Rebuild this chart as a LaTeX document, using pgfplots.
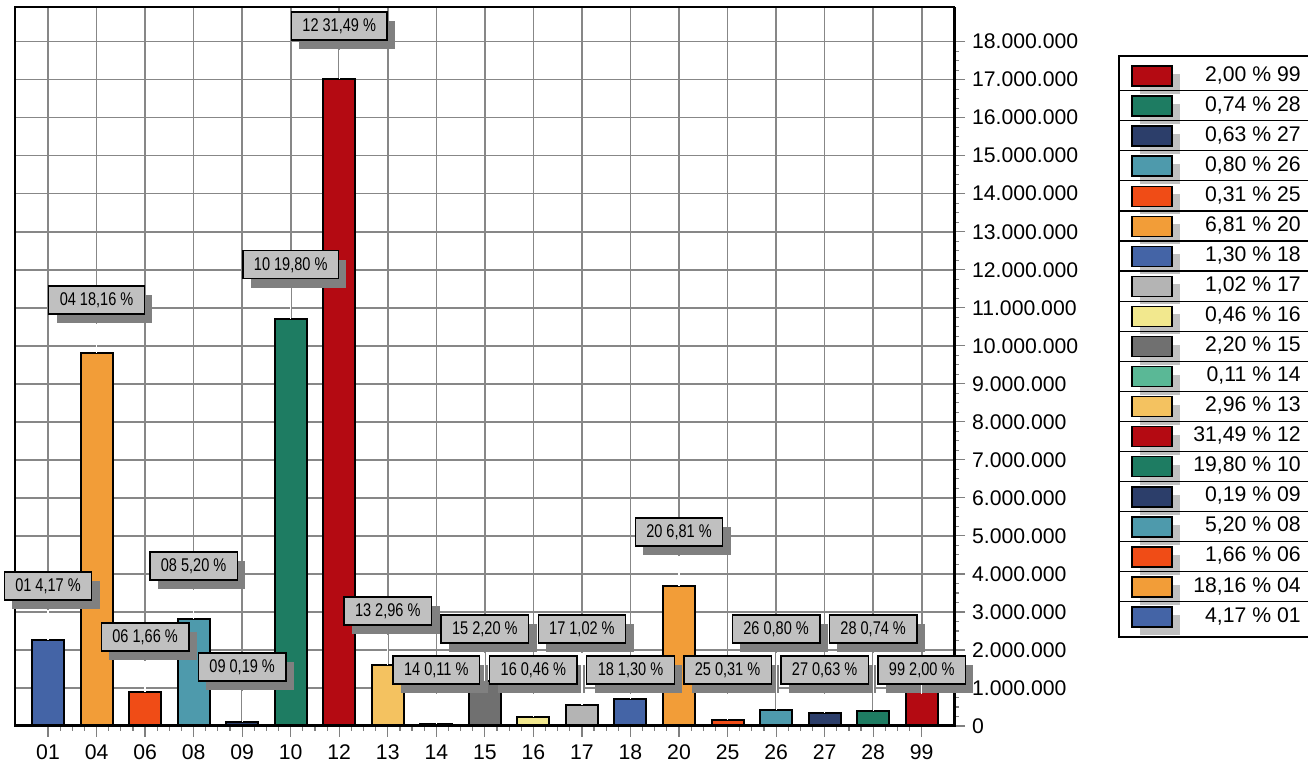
\documentclass[border=0pt]{standalone}
\usepackage{fontspec}
\setmainfont{Liberation Sans}
\newfontfamily\narrowfont[FakeStretch=0.79]{Liberation Sans}
\usepackage{pgfplots}
\pgfplotsset{compat=1.18}
\usetikzlibrary{shadows}

\definecolor{cblue}{RGB}{68,100,166}
\definecolor{corange}{RGB}{242,157,56}
\definecolor{cver}{RGB}{240,76,22}
\definecolor{cteal}{RGB}{78,154,172}
\definecolor{cnavy}{RGB}{44,62,106}
\definecolor{cgreen}{RGB}{30,124,98}
\definecolor{cred}{RGB}{180,10,18}
\definecolor{clorange}{RGB}{244,194,96}
\definecolor{cmint}{RGB}{90,184,150}
\definecolor{cgray}{RGB}{112,112,112}
\definecolor{cyellow}{RGB}{242,232,142}
\definecolor{clgray}{RGB}{180,180,180}
\definecolor{gridgray}{RGB}{135,135,135}
\definecolor{lblgray}{RGB}{192,192,192}
\definecolor{shgray}{RGB}{128,128,128}

\newcommand{\tickfont}{\fontsize{10.6}{12}\selectfont}
\newcommand{\lblfont}{\narrowfont\fontsize{9.2}{11}\selectfont}

% label box with its leader line down to the bar
\newcommand{\lab}[4]{%
  \node[lbl] (n) at (axis cs:#1,#2) {#4};
  \draw[white, line width=0.6pt] ([yshift=-4.5pt]n.south) -- (axis cs:#1,#3);
}

\begin{document}
\begin{tikzpicture}[
  bx/.style={fill=#1, draw=black, line width=1pt, bar shift=0pt},
  lbl/.style={draw=black, line width=0.7pt, fill=lblgray, font=\lblfont,
    inner xsep=5.5pt, inner ysep=0pt, minimum height=14pt,
    drop shadow={shadow xshift=4pt, shadow yshift=-4.5pt, fill=shgray, opacity=1}},
]
\path[use as bounding box] (0,0) rectangle (654pt,382.5pt);

\begin{axis}[
  at={(7.5pt,19.5pt)}, anchor=south west,
  scale only axis,
  width=469.5pt, height=359.5pt,
  ybar, bar width=16pt,
  xmin=-0.68, xmax=18.665,
  ymin=0, ymax=18910000,
  clip=false,
  xtick={0,1,2,3,4,5,6,7,8,9,10,11,12,13,14,15,16,17,18},
  xticklabels={01,04,06,08,09,10,12,13,14,15,16,17,18,20,25,26,27,28,99},
  ytick={0,1000000,2000000,3000000,4000000,5000000,6000000,7000000,8000000,9000000,10000000,11000000,12000000,13000000,14000000,15000000,16000000,17000000,18000000},
  minor x tick num=3,
  minor y tick num=3,
  scaled y ticks=false,
  /pgf/number format/assume math mode=true,
  yticklabel style={/pgf/number format/.cd, fixed, precision=0, 1000 sep={.}},
  xtick pos=left, ytick pos=right, yticklabel pos=right,
  tick align=outside,
  major tick length=5.5pt, minor tick length=2.5pt,
  tick style={color=shgray, line width=0.6pt},
  ticklabel style={font=\tickfont},
  xticklabel style={yshift=-0.5pt},
  grid=major,
  grid style={color=gridgray, line width=0.8pt},
  axis line style={line width=0.7pt},
]
\addplot[bx=cblue] coordinates {(0,2252000)};
\addplot[bx=corange] coordinates {(1,9806000)};
\addplot[bx=cver] coordinates {(2,896000)};
\addplot[bx=cteal] coordinates {(3,2808000)};
\addplot[bx=cnavy] coordinates {(4,103000)};
\addplot[bx=cgreen] coordinates {(5,10692000)};
\addplot[bx=cred] coordinates {(6,17005000)};
\addplot[bx=clorange] coordinates {(7,1598000)};
\addplot[bx=cmint] coordinates {(8,59000)};
\addplot[bx=cgray] coordinates {(9,1188000)};
\addplot[bx=cyellow] coordinates {(10,248000)};
\addplot[bx=clgray] coordinates {(11,551000)};
\addplot[bx=cblue] coordinates {(12,702000)};
\addplot[bx=corange] coordinates {(13,3677000)};
\addplot[bx=cver] coordinates {(14,167000)};
\addplot[bx=cteal] coordinates {(15,432000)};
\addplot[bx=cnavy] coordinates {(16,340000)};
\addplot[bx=cgreen] coordinates {(17,400000)};
\addplot[bx=cred] coordinates {(18,1080000)};

\draw[line width=1.5pt] (rel axis cs:0,0) -- (rel axis cs:1,0) -- (rel axis cs:1,1);

\lab{0}{3680000}{2252000}{01 4,17 \%}
\lab{1}{11200000}{9806000}{04 18,16 \%}
\lab{2}{2340000}{896000}{06 1,66 \%}
\lab{3}{4210000}{2808000}{08 5,20 \%}
\lab{4}{1550000}{103000}{09 0,19 \%}
\lab{5}{12130000}{10692000}{10 19,80 \%}
\lab{6}{18410000}{17005000}{12 31,49 \%}
\lab{7}{3020000}{1598000}{13 2,96 \%}
\lab{8}{1470000}{59000}{14 0,11 \%}
\lab{9}{2550000}{1188000}{15 2,20 \%}
\lab{10}{1470000}{248000}{16 0,46 \%}
\lab{11}{2550000}{551000}{17 1,02 \%}
\lab{12}{1470000}{702000}{18 1,30 \%}
\lab{13}{5100000}{3677000}{20 6,81 \%}
\lab{14}{1470000}{167000}{25 0,31 \%}
\lab{15}{2550000}{432000}{26 0,80 \%}
\lab{16}{1470000}{340000}{27 0,63 \%}
\lab{17}{2550000}{400000}{28 0,74 \%}
\lab{18}{1470000}{1080000}{99 2,00 \%}
\end{axis}

% legend, in pixel units from the top left corner
\begin{scope}[shift={(0,382.5pt)}, x=0.5pt, y=-0.5pt]
\fill[white] (1119,56) rectangle (1312,637);
\foreach \c/\t [count=\k from 0] in {
  cred/{2,00 \% 99}, cgreen/{0,74 \% 28}, cnavy/{0,63 \% 27},
  cteal/{0,80 \% 26}, cver/{0,31 \% 25}, corange/{6,81 \% 20},
  cblue/{1,30 \% 18}, clgray/{1,02 \% 17}, cyellow/{0,46 \% 16},
  cgray/{2,20 \% 15}, cmint/{0,11 \% 14}, clorange/{2,96 \% 13},
  cred/{31,49 \% 12}, cgreen/{19,80 \% 10}, cnavy/{0,19 \% 09},
  cteal/{5,20 \% 08}, cver/{1,66 \% 06}, corange/{18,16 \% 04},
  cblue/{4,17 \% 01}} {
  \fill[lblgray] (1140,{76+30.06*\k-2}) rectangle (1180,{76+30.06*\k+18});
  \draw[fill=\c, line width=0.7pt] (1132,{76+30.06*\k-10}) rectangle (1172,{76+30.06*\k+10});
  \node[anchor=east, font=\tickfont, inner sep=0pt] at (1301,{76+30.06*\k-1}) {\t};
}
\foreach \k in {0,...,17}
  \draw[line width=0.6pt] (1119,{90.7+30.06*\k}) -- (1312,{90.7+30.06*\k});
\draw[line width=0.8pt] (1119,56) rectangle (1312,637);
\end{scope}
\end{tikzpicture}
\end{document}
